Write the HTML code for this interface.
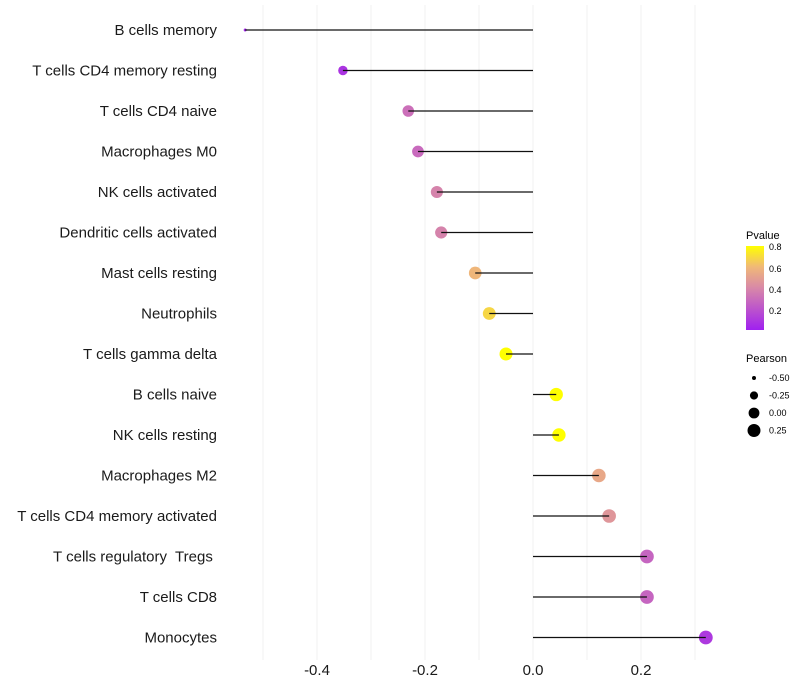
<!DOCTYPE html>
<html><head><meta charset="utf-8"><style>
body{margin:0;background:#fff;}
svg{display:block;font-family:"Liberation Sans",sans-serif;}
text{white-space:pre;}
</style></head><body>
<svg id="chart" width="800" height="700">
<defs>
<linearGradient id="pgrad" x1="0" y1="1" x2="0" y2="0">
<stop offset="0" stop-color="#a020f0"/>
<stop offset="0.5" stop-color="#d888a8"/>
<stop offset="0.75" stop-color="#f0b878"/>
<stop offset="1" stop-color="#ffff00"/>
</linearGradient>
</defs>
<g id="grid"></g>
<g id="marks"></g>
<g id="labels"></g>
<g id="xaxis"></g>
<g id="legend">
<text x="746" y="239" font-size="11" fill="#000">Pvalue</text>
<rect x="746" y="246" width="18" height="84" fill="url(#pgrad)"/>
<text x="769" y="250" font-size="9">0.8</text>
<text x="769" y="272" font-size="9">0.6</text>
<text x="769" y="293" font-size="9">0.4</text>
<text x="769" y="314" font-size="9">0.2</text>
<text x="746" y="362" font-size="11">Pearson</text>
</g>
</svg>
<script>
const categories=["B cells memory","T cells CD4 memory resting","T cells CD4 naive","Macrophages M0","NK cells activated","Dendritic cells activated","Mast cells resting","Neutrophils","T cells gamma delta","B cells naive","NK cells resting","Macrophages M2","T cells CD4 memory activated","T cells regulatory  Tregs ","T cells CD8","Monocytes"];
const pearson=[-0.533,-0.352,-0.231,-0.213,-0.178,-0.170,-0.107,-0.081,-0.050,0.043,0.048,0.122,0.141,0.211,0.211,0.320];
const pvalues=[0.03,0.08,0.32,0.30,0.40,0.40,0.62,0.72,0.85,0.85,0.85,0.56,0.48,0.28,0.28,0.10];
const xTicks=[-0.4,-0.2,0.0,0.2];
const xTickLabels=["-0.4","-0.2","0.0","0.2"];
const gridVals=[-0.5,-0.4,-0.3,-0.2,-0.1,0,0.1,0.2,0.3];
const sizeLegend=[-0.5,-0.25,0,0.25];
const sizeLegendLabels=["-0.50","-0.25","0.00","0.25"];

const NS="http://www.w3.org/2000/svg";
function xs(v){return 533+v*540;}
function ys(i){return 30+i*40.5;}
function rs(v){return Math.sqrt(Math.max(1.5,29.3+50.7*v));}
function rp(v){return Math.max(1.5,7-5.5*Math.exp(-(v+0.53)*5));}
function lerp(a,b,t){return a.map((x,i)=>Math.round(x+(b[i]-x)*t));}
function col(p){
  const stops=[[0,[160,32,240]],[0.42,[216,136,168]],[0.63,[240,184,120]],[0.84,[255,255,0]]];
  if(p<=0)return "rgb(160,32,240)";
  for(let i=1;i<stops.length;i++){if(p<=stops[i][0]){const t=(p-stops[i-1][0])/(stops[i][0]-stops[i-1][0]);return "rgb("+lerp(stops[i-1][1],stops[i][1],t).join(",")+")";}}
  return "rgb(255,255,0)";
}
function mk(tag,attrs,parent){const e=document.createElementNS(NS,tag);for(const k in attrs)e.setAttribute(k,attrs[k]);parent.appendChild(e);return e;}
const grid=document.getElementById("grid"),marks=document.getElementById("marks"),labels=document.getElementById("labels"),xaxis=document.getElementById("xaxis"),legend=document.getElementById("legend");
gridVals.forEach(v=>{
  const l=mk("line",{x1:xs(v),x2:xs(v),y1:5,y2:660,stroke:"#f0f0f0","stroke-width":1},grid);
  
  
});
categories.forEach((c,i)=>{
  const y=ys(i);
  const t=mk("text",{x:217,y:y+5,"text-anchor":"end","font-size":15,fill:"#1a1a1a"},labels);
  t.textContent=c;
  
  
  const d=mk("circle",{cx:xs(pearson[i]),cy:y,r:rp(pearson[i]),fill:col(pvalues[i])},marks);
  
  
  const s=mk("line",{x1:xs(0),x2:xs(pearson[i]),y1:y,y2:y,stroke:"#111","stroke-width":1.2},marks);
  
  
});
xTicks.forEach((v,i)=>{
  const t=mk("text",{x:xs(v),y:675,"text-anchor":"middle","font-size":15,fill:"#1a1a1a"},xaxis);
  t.textContent=xTickLabels[i];
  
  
});
sizeLegend.forEach((v,i)=>{
  const y=378+i*17.5;
  const c=mk("circle",{cx:754,cy:y,r:rs(v),fill:"#000"},legend);
  
  
  const t=mk("text",{x:769,y:y+3,"font-size":9},legend);
  t.textContent=sizeLegendLabels[i];
  
  
});
</script>
</body></html>
